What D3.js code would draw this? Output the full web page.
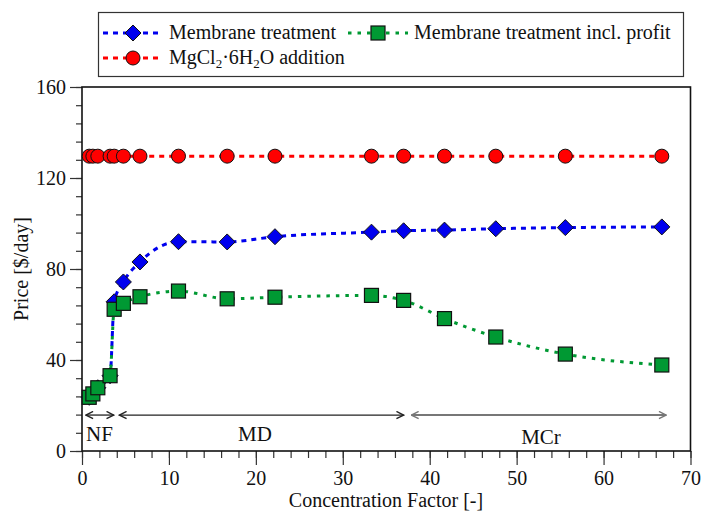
<!DOCTYPE html>
<html>
<head>
<meta charset="utf-8">
<script src="https://cdn.jsdelivr.net/npm/d3@7"></script>
<style>
body { margin: 0; background: #fff; }
svg text { font-family: "Liberation Serif", "Times New Roman", serif !important; fill: #111; }
</style>
</head>
<body>
<svg id="chart" width="702" height="513"></svg>
<script>
// concentration factor for every stage
var cf = [0.83, 1.25, 1.82, 3.23, 3.7, 4.76, 6.67, 11.1, 16.7, 22.2, 33.3, 37.0, 41.7, 47.6, 55.6, 66.7];
var membrane = [23.6, 25.1, 27.8, 33.1, 65.6, 74.3, 83.1, 92.0, 91.9, 94.2, 96.2, 96.8, 97.1, 97.7, 98.2, 98.5];
var membraneProfit = [23.6, 25.1, 27.8, 33.1, 62.3, 64.9, 67.8, 70.3, 66.9, 67.6, 68.4, 66.2, 58.2, 50.1, 42.6, 37.8];
var mgcl2 = [129.6, 129.6, 129.6, 129.6, 129.6, 129.6, 129.6, 129.6, 129.6, 129.6, 129.6, 129.6, 129.6, 129.6, 129.6, 129.6];

var xTicks = [0, 10, 20, 30, 40, 50, 60, 70];
var yTicks = [0, 40, 80, 120, 160];

// process stages: [label, from, to]
var stages = [["NF", 0.45, 3.65], ["MD", 4.3, 37.0], ["MCr", 37.9, 67.2]];

var svg = d3.select("#chart");
var plotL = 82, plotR = 690.5, plotT = 87, plotB = 451;

var x = d3.scaleLinear().domain([0, 70]).range([plotL, plotR]);
var y = d3.scaleLinear().domain([0, 160]).range([plotB, plotT]);

// minor ticks first
var gx = svg.append("g").attr("transform", "translate(0," + plotB + ")");
gx.call(d3.axisBottom(x).tickValues(d3.range(0, 71, 2)).tickSize(7).tickFormat(""));
gx.append("g").call(d3.axisBottom(x).tickValues(xTicks).tickSize(14).tickPadding(6).tickFormat(d3.format("d")));
gx.selectAll(".domain").remove();
gx.selectAll("line").attr("stroke", "#333").attr("stroke-width", 1.2);
gx.selectAll("text").style("font-size", "20px").attr("fill", "#111");

var gy = svg.append("g").attr("transform", "translate(" + plotL + ",0)");
gy.call(d3.axisLeft(y).tickValues(d3.range(0, 161, 8)).tickSize(6).tickFormat(""));
gy.append("g").call(d3.axisLeft(y).tickValues(yTicks).tickSize(12).tickPadding(4).tickFormat(d3.format("d")));
gy.selectAll(".domain").remove();
gy.selectAll("line").attr("stroke", "#333").attr("stroke-width", 1.2);
gy.selectAll("text").style("font-size", "20px").attr("fill", "#111");

// frame
svg.append("rect")
  .attr("x", plotL).attr("y", plotT)
  .attr("width", plotR - plotL).attr("height", plotB - plotT)
  .attr("fill", "none").attr("stroke", "#111").attr("stroke-width", 1.6);

// axis titles
svg.append("text").attr("x", 386).attr("y", 507)
  .attr("text-anchor", "middle").style("font-size", "20px")
  .text("Concentration Factor [-]");
svg.append("text").attr("transform", "translate(28," + ((plotT + plotB) / 2) + ") rotate(-90)")
  .attr("text-anchor", "middle").style("font-size", "20px")
  .text("Price [$/day]");

// stage arrows
var defs = svg.append("defs");
["#222", "#777"].forEach(function(c, i) {
  defs.append("marker").attr("id", "ah" + i)
    .attr("viewBox", "0 0 10 10").attr("refX", 9).attr("refY", 5)
    .attr("markerWidth", 9).attr("markerHeight", 9).attr("markerUnits", "userSpaceOnUse")
    .attr("orient", "auto-start-reverse")
    .append("path").attr("d", "M1,1 L9,5 L1,9").attr("fill", "none")
    .attr("stroke", c).attr("stroke-width", 1.6);
});
var ay = y(15.8);
stages.forEach(function(s, i) {
  var col = i == 2 ? "#777" : "#222";
  svg.append("line")
    .attr("x1", x(s[1])).attr("x2", x(s[2]))
    .attr("y1", ay).attr("y2", ay)
    .attr("stroke", col).attr("stroke-width", i == 2 ? 2 : 1.3)
    .attr("marker-start", "url(#ah" + (i == 2 ? 1 : 0) + ")")
    .attr("marker-end", "url(#ah" + (i == 2 ? 1 : 0) + ")");
});
svg.append("text").attr("x", 86).attr("y", 441).style("font-size", "21px").text("NF");
svg.append("text").attr("x", 255).attr("y", 441).attr("text-anchor", "middle").style("font-size", "21px").text("MD");
svg.append("text").attr("x", 541).attr("y", 444).attr("text-anchor", "middle").style("font-size", "21px").text("MCr");

var series = [
  { name: "membrane", values: membrane, color: "#0000ee", fill: "#0000ee", dash: "5,5", shape: "diamond" },
  { name: "profit", values: membraneProfit, color: "#009933", fill: "#009933", dash: "3.5,6", shape: "square" },
  { name: "mgcl2", values: mgcl2, color: "#ff0000", fill: "#ff0000", dash: "5,5", shape: "circle" }
];

var line = d3.line()
  .x(function(d) { return x(d[0]); })
  .y(function(d) { return y(d[1]); })
  .curve(d3.curveMonotoneX);

function drawMarker(g, shape, fill, px, py) {
  if (shape == "diamond") {
    g.append("path").attr("d", "M" + px + "," + (py - 8) + " L" + (px + 8) + "," + py + " L" + px + "," + (py + 8) + " L" + (px - 8) + "," + py + "Z")
      .attr("fill", fill).attr("stroke", "#111").attr("stroke-width", 1);
  } else if (shape == "square") {
    g.append("rect").attr("x", px - 7).attr("y", py - 7).attr("width", 14).attr("height", 14)
      .attr("fill", fill).attr("stroke", "#111").attr("stroke-width", 1.2);
  } else {
    g.append("circle").attr("cx", px).attr("cy", py).attr("r", 7)
      .attr("fill", fill).attr("stroke", "#111").attr("stroke-width", 1);
  }
}

series.forEach(function(s) {
  var pts = cf.map(function(c, i) { return [c, s.values[i]]; });
  var g = svg.append("g");
  g.append("path").datum(pts).attr("d", line)
    .attr("fill", "none").attr("stroke", s.color)
    .attr("stroke-width", 3).attr("stroke-dasharray", s.dash);
  pts.forEach(function(p) { drawMarker(g, s.shape, s.fill, x(p[0]), y(p[1])); });
});

// legend
var lg = svg.append("g");
lg.append("rect").attr("x", 98.5).attr("y", 12.5).attr("width", 585).attr("height", 64)
  .attr("fill", "#fff").attr("stroke", "#333").attr("stroke-width", 1.2);
var legendItems = [
  { s: series[0], x: 103, y: 33, label: "Membrane treatment" },
  { s: series[1], x: 348, y: 33, label: "Membrane treatment incl. profit" },
  { s: series[2], x: 103, y: 58, label: "MgCl" }
];
legendItems.forEach(function(it) {
  lg.append("line").attr("x1", it.x).attr("x2", it.x + 60).attr("y1", it.y).attr("y2", it.y)
    .attr("stroke", it.s.color).attr("stroke-width", 3).attr("stroke-dasharray", it.s.dash);
  drawMarker(lg, it.s.shape, it.s.fill, it.x + 30, it.y);
  var t = lg.append("text").attr("x", it.x + 66).attr("y", it.y + 6).style("font-size", "20px");
  if (it.label == "MgCl") {
    t.append("tspan").text("MgCl");
    t.append("tspan").attr("dy", 4).style("font-size", "13px").text("2");
    t.append("tspan").attr("dy", -4).text("\u00b76H");
    t.append("tspan").attr("dy", 4).style("font-size", "13px").text("2");
    t.append("tspan").attr("dy", -4).text("O addition");
  } else {
    t.text(it.label);
  }
});
</script>
</body>
</html>
